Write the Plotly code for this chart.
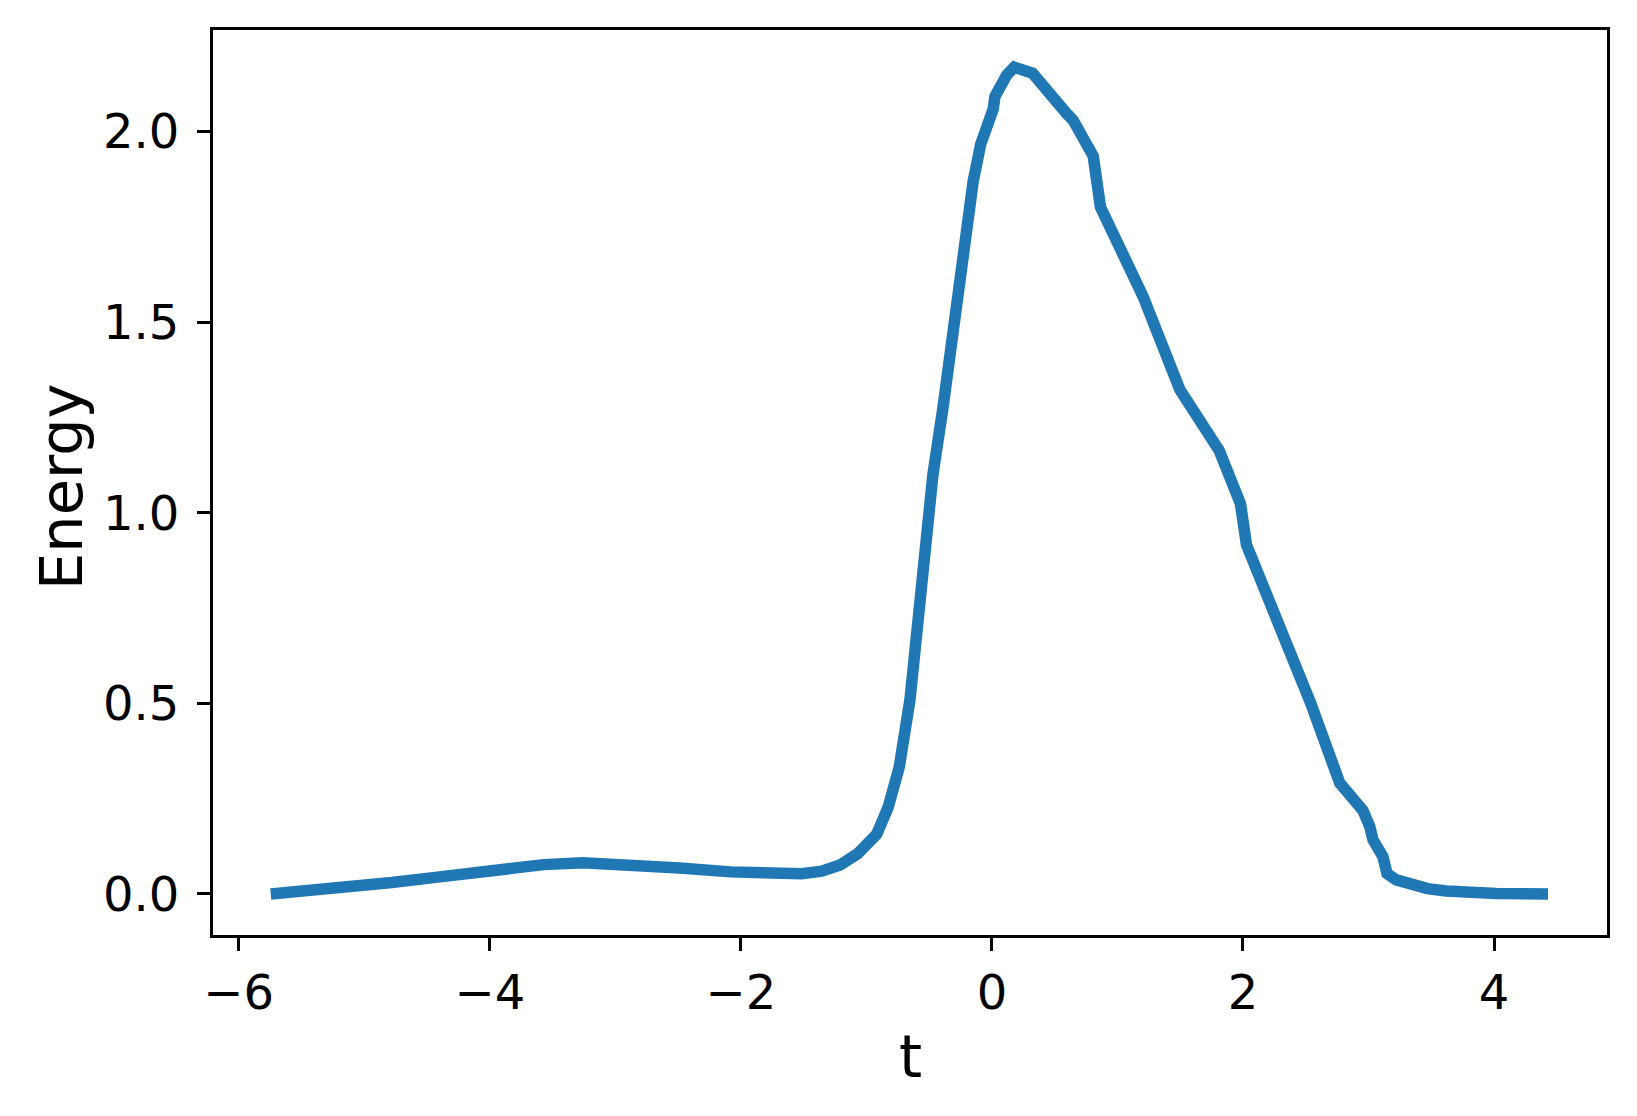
import plotly.graph_objects as go

t_values = [-5.745, -5.3, -4.78, -4.45, -4.15, -3.85, -3.57, -3.26, -2.87, -2.49, -2.08,
            -1.69, -1.515, -1.356, -1.21, -1.072, -0.918, -0.826, -0.738, -0.653,
            -0.547, -0.47, -0.39, -0.281, -0.215, -0.149, -0.089, -0.037, 0.011,
            0.024, 0.064, 0.117, 0.178, 0.324, 0.594, 0.647, 0.807, 0.865, 1.205,
            1.497, 1.810, 1.980, 2.028, 2.33, 2.54, 2.771, 2.956, 3.010, 3.036,
            3.115, 3.147, 3.222, 3.354, 3.47, 3.620, 3.82, 4.018, 4.43]
energy_values = [0.0, 0.012, 0.030, 0.043, 0.055, 0.066, 0.077, 0.082, 0.077, 0.068, 0.058,
                 0.053, 0.053, 0.060, 0.076, 0.105, 0.157, 0.228, 0.333, 0.509,
                 0.840, 1.100, 1.275, 1.550, 1.730, 1.870, 1.967, 2.010, 2.060,
                 2.092, 2.122, 2.148, 2.169, 2.153, 2.048, 2.030, 1.936, 1.802, 1.567,
                 1.323, 1.164, 1.024, 0.916, 0.670, 0.500, 0.291, 0.219, 0.177, 0.142,
                 0.098, 0.054, 0.037, 0.021, 0.014, 0.008, 0.004, 0.001, 0.0]

x_ticks = [-6, -4, -2, 0, 2, 4]
y_ticks = [0.0, 0.5, 1.0, 1.5, 2.0]
x_label = "t"
y_label = "Energy"

W, H = 1637, 1116
L, R, T, B = 205, 38, 22, 189

fig = go.Figure()
fig.add_trace(go.Scatter(x=t_values, y=energy_values, mode="lines",
                         line=dict(color="#1f77b4", width=11.5), showlegend=False))

axis_common = dict(showline=True, linecolor="black", linewidth=3, mirror=True,
                   ticks="outside", ticklen=13, tickwidth=3, tickcolor="black",
                   showgrid=False, zeroline=False,
                   tickfont=dict(family="DejaVu Sans", size=48, color="black"))

fig.update_xaxes(range=[-6.205, 4.90], tickvals=x_ticks,
                 ticktext=[("−" + str(abs(v))) if v < 0 else str(v) for v in x_ticks],
                 ticklabelstandoff=0, **axis_common)
fig.update_yaxes(range=[-0.1076, 2.2666], tickvals=y_ticks,
                 ticktext=[f"{v:.1f}" for v in y_ticks],
                 ticklabelstandoff=8, **axis_common)

plot_w = W - L - R
plot_h = H - T - B
fig.add_annotation(text=x_label, xref="paper", yref="paper",
                   x=0.5, y=-121 / plot_h, xanchor="center", yanchor="middle",
                   showarrow=False, font=dict(family="DejaVu Sans", size=59, color="black"))
fig.add_annotation(text=y_label, xref="paper", yref="paper", textangle=-90,
                   x=-152 / plot_w, y=0.495, xanchor="center", yanchor="middle",
                   showarrow=False, font=dict(family="DejaVu Sans", size=59, color="black"))

fig.update_layout(width=W, height=H, margin=dict(l=L, r=R, t=T, b=B),
                  paper_bgcolor="white", plot_bgcolor="white")

fig.write_html("out.html")
